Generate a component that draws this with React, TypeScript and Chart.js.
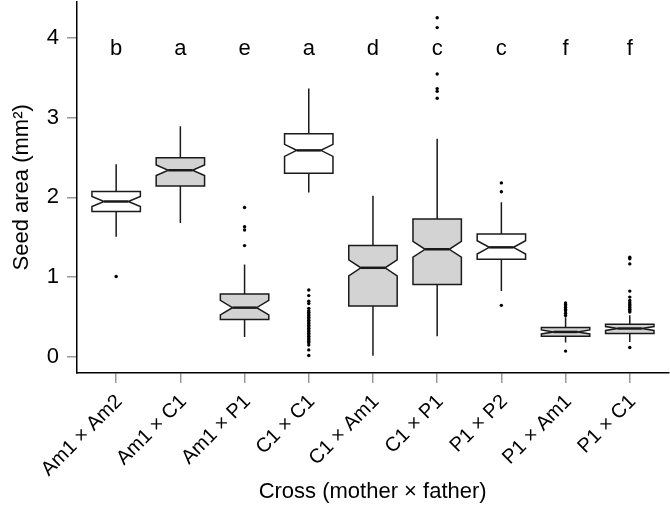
import React, { useEffect, useRef } from "react";
import { Chart, registerables } from "chart.js";

Chart.register(...registerables);

// ---- data ----
const CATEGORIES = [
  "Am1 × Am2",
  "Am1 × C1",
  "Am1 × P1",
  "C1 × C1",
  "C1 × Am1",
  "C1 × P1",
  "P1 × P2",
  "P1 × Am1",
  "P1 × C1",
];
const GROUP_LETTERS = ["b", "a", "e", "a", "d", "c", "c", "f", "f"];
const WHISKER_LO = [1.508, 1.679, 0.253, 2.06, 0.016, 0.262, 0.826, 0.183, 0.19];
const Q1 = [1.823, 2.143, 0.47, 2.302, 0.639, 0.91, 1.225, 0.262, 0.295];
const MEDIAN = [1.948, 2.339, 0.619, 2.588, 1.118, 1.35, 1.374, 0.315, 0.358];
const Q3 = [2.072, 2.496, 0.789, 2.795, 1.396, 1.728, 1.541, 0.37, 0.411];
const WHISKER_HI = [2.414, 2.891, 1.159, 3.361, 2.019, 2.733, 1.94, 0.5, 0.523];
const NOTCH_HALF = [0.063, 0.066, 0.091, 0.075, 0.1, 0.1, 0.083, 0.025, 0.025];
const SHADED = [false, true, true, false, true, true, false, true, true];
const OUTLIERS = [
  [1.009],
  [],
  [1.873, 1.632, 1.591, 1.396],
  [0.84, 0.77, 0.7, 0.67, 0.61, 0.58, 0.56, 0.54, 0.52, 0.5, 0.48, 0.46, 0.44, 0.42, 0.4, 0.38, 0.36, 0.34, 0.32, 0.3, 0.28, 0.26, 0.24, 0.22, 0.2, 0.18, 0.15, 0.09, 0.02],
  [],
  [4.249, 4.125, 3.543, 3.361, 3.327, 3.24],
  [2.181, 2.069, 0.648],
  [0.677, 0.66, 0.64, 0.62, 0.6, 0.58, 0.55, 0.52, 0.075],
  [1.25, 1.23, 1.167, 0.826, 0.751, 0.71, 0.68, 0.66, 0.64, 0.62, 0.6, 0.58, 0.565, 0.12],
];
const Y_TICKS = [0, 1, 2, 3, 4];
const LETTER_LEVEL = 3.788;

// ---- style ----
const FONT = "'Liberation Sans', Arial, Helvetica, sans-serif";
const FS = 22;
const FS_X = 20;
const BOX_HALF = 0.377;
const GRAY = "#d3d3d3";
const INK = "#1a1a1a";

const boxPlugin = {
  id: "notchedBoxes",
  beforeDatasetsDraw(chart: any) {
    const { ctx, scales } = chart;
    const x = scales.x;
    const y = scales.y;
    ctx.save();
    ctx.lineJoin = "miter";
    for (let i = 0; i < CATEGORIES.length; i++) {
      const cx = x.getPixelForValue(i);
      const hw = x.getPixelForValue(i + BOX_HALF) - cx;
      const ind = hw / 2;
      const pLo = y.getPixelForValue(WHISKER_LO[i]);
      const pQ1 = y.getPixelForValue(Q1[i]);
      const pMed = y.getPixelForValue(MEDIAN[i]);
      const pQ3 = y.getPixelForValue(Q3[i]);
      const pHi = y.getPixelForValue(WHISKER_HI[i]);
      const nLo = y.getPixelForValue(MEDIAN[i] - NOTCH_HALF[i]);
      const nHi = y.getPixelForValue(MEDIAN[i] + NOTCH_HALF[i]);
      ctx.strokeStyle = INK;
      ctx.lineWidth = 1.5;
      ctx.beginPath();
      ctx.moveTo(cx, pQ3);
      ctx.lineTo(cx, pHi);
      ctx.moveTo(cx, pQ1);
      ctx.lineTo(cx, pLo);
      ctx.stroke();
      const xl = cx - hw;
      const xr = cx + hw;
      ctx.beginPath();
      ctx.moveTo(xl, pQ3);
      ctx.lineTo(xr, pQ3);
      ctx.lineTo(xr, nHi);
      ctx.lineTo(xr - ind, pMed);
      ctx.lineTo(xr, nLo);
      ctx.lineTo(xr, pQ1);
      ctx.lineTo(xl, pQ1);
      ctx.lineTo(xl, nLo);
      ctx.lineTo(xl + ind, pMed);
      ctx.lineTo(xl, nHi);
      ctx.closePath();
      ctx.fillStyle = SHADED[i] ? GRAY : "#ffffff";
      ctx.fill();
      ctx.stroke();
      ctx.lineWidth = 2.5;
      ctx.beginPath();
      ctx.moveTo(xl + ind, pMed);
      ctx.lineTo(xr - ind, pMed);
      ctx.stroke();
    }
    ctx.restore();
  },
  afterDatasetsDraw(chart: any) {
    const { ctx, scales } = chart;
    ctx.save();
    ctx.fillStyle = "#000";
    ctx.font = `${FS}px ${FONT}`;
    ctx.textAlign = "center";
    ctx.textBaseline = "alphabetic";
    const py = scales.y.getPixelForValue(LETTER_LEVEL);
    GROUP_LETTERS.forEach((l, i) => {
      ctx.fillText(l, scales.x.getPixelForValue(i), py);
    });
    ctx.restore();
  },
};

export default function App() {
  const ref = useRef<HTMLCanvasElement | null>(null);
  useEffect(() => {
    if (!ref.current) return;
    const points: { x: number; y: number }[] = [];
    OUTLIERS.forEach((arr, i) => arr.forEach((v) => points.push({ x: i, y: v })));
    const chart = new Chart(ref.current, {
      type: "scatter",
      data: {
        datasets: [
          {
            data: points,
            pointRadius: 1.7,
            pointHoverRadius: 1.7,
            backgroundColor: "#000",
            borderWidth: 0,
          },
        ],
      },
      options: {
        responsive: false,
        animation: false,
        devicePixelRatio: 1,
        layout: { padding: 0 },
        plugins: { legend: { display: false }, tooltip: { enabled: false } },
        scales: {
          x: {
            type: "linear",
            min: -0.61,
            max: 8.6,
            bounds: "data",
            afterBuildTicks: (s: any) => {
              s.ticks = CATEGORIES.map((_, i) => ({ value: i }));
            },
            afterFit: (s: any) => {
              s.height = 132;
              s.paddingLeft = 0;
              s.paddingRight = 0;
            },
            ticks: {
              autoSkip: false,
              minRotation: 45,
              maxRotation: 45,
              padding: 7,
              labelOffset: 3,
              color: "#000",
              font: { size: FS_X, family: FONT },
              callback: (v: any) => CATEGORIES[v] ?? "",
            },
            grid: { drawOnChartArea: false, drawTicks: true, tickLength: 10, color: "#999", lineWidth: 1.5 },
            border: { display: true, color: "#000", width: 1.5 },
            title: {
              display: true,
              text: "Cross (mother × father)",
              color: "#000",
              font: { size: FS, family: FONT },
              padding: { top: 0, bottom: 0 },
            },
          },
          y: {
            type: "linear",
            min: -0.199,
            max: 4.449,
            bounds: "data",
            afterBuildTicks: (s: any) => {
              s.ticks = Y_TICKS.map((v) => ({ value: v }));
            },
            afterFit: (s: any) => {
              s.width = 77;
              s.paddingTop = 0;
              s.paddingBottom = 0;
            },
            ticks: {
              padding: 8,
              color: "#000",
              font: { size: FS, family: FONT },
              callback: (v: any) => String(v),
            },
            grid: { drawOnChartArea: false, drawTicks: true, tickLength: 10, color: "#999", lineWidth: 1.5 },
            border: { display: true, color: "#000", width: 1.5 },
            title: {
              display: true,
              text: "Seed area (mm²)",
              color: "#000",
              font: { size: FS, family: FONT },
              padding: { top: 9, bottom: 0 },
            },
          },
        },
      },
      plugins: [boxPlugin],
    });
    return () => chart.destroy();
  }, []);
  return (
    <div style={{ position: "absolute", left: 0, top: 0, width: 670, height: 505 }}>
      <canvas ref={ref} width={670} height={505} style={{ display: "block" }} />
    </div>
  );
}
